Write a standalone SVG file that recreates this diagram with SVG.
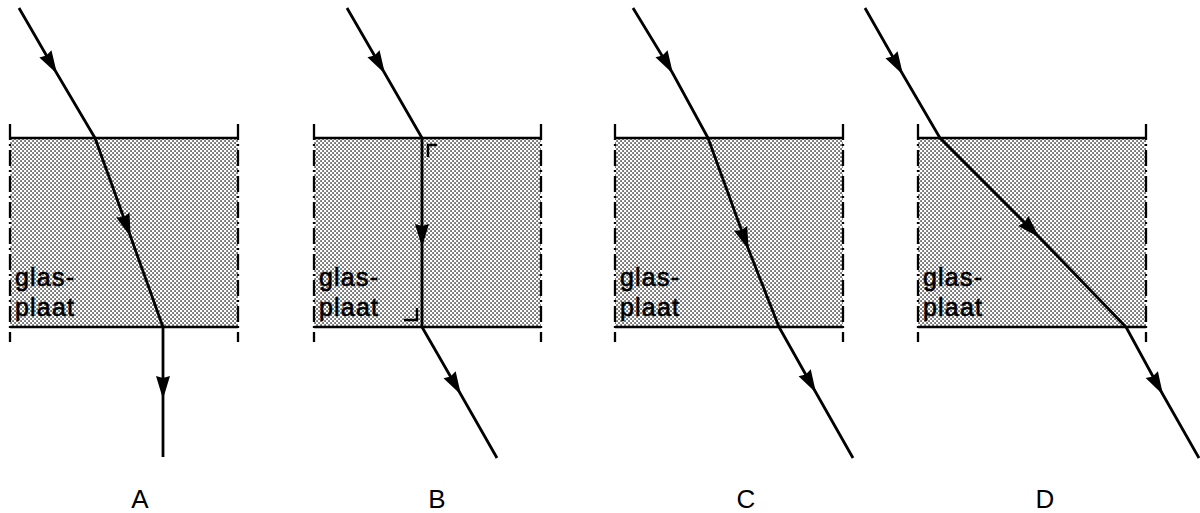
<svg xmlns="http://www.w3.org/2000/svg" width="1200" height="513" viewBox="0 0 1200 513">
<style>
.slab{fill:url(#dots);stroke:none}
.hl{stroke:#000;stroke-width:2.3;fill:none}
.edge{stroke:#000;stroke-width:2.3;fill:none;stroke-dasharray:16 4 2 4}
.ray{stroke:#000;stroke-width:2.8;fill:none;stroke-linejoin:round;marker-mid:url(#arr)}
.ra{stroke:#000;stroke-width:2.4;fill:none}
.gl{font-family:"Liberation Sans",Arial,sans-serif;font-size:25px;letter-spacing:1.2px;fill:#000;stroke:#000;stroke-width:0.6}
.lab{font-family:"Liberation Sans",Arial,sans-serif;font-size:26px;fill:#000;text-anchor:middle}
</style>
<defs>
<pattern id="dots" patternUnits="userSpaceOnUse" width="4" height="4">
<rect width="4" height="4" fill="#fff"/>
<rect x="0.3" y="0.3" width="1.5" height="1.5" fill="#222"/>
<rect x="2.3" y="2.3" width="1.5" height="1.5" fill="#222"/>
</pattern>
<marker id="arr" markerUnits="userSpaceOnUse" markerWidth="28" markerHeight="18" viewBox="-25 -9 28 18" refX="0" refY="0" orient="auto">
<path d="M2,0 L-21,-7 L-19,0 L-21,7 Z" fill="#000"/>
</marker>
</defs>

<g id="panelA">
<rect class="slab" x="10" y="138" width="228" height="189"/>
<line class="hl" x1="10" y1="138" x2="238" y2="138"/>
<line class="hl" x1="10" y1="327" x2="238" y2="327"/>
<line class="edge" x1="10" y1="124" x2="10" y2="342"/>
<line class="edge" x1="238" y1="124" x2="238" y2="342"/>
<text class="gl" x="15" y="286">glas-</text>
<text class="gl" x="15" y="316">plaat</text>
<text class="lab" x="140" y="508">A</text>
</g>

<g id="panelB">
<rect class="slab" x="314" y="138" width="227" height="189"/>
<line class="hl" x1="314" y1="138" x2="541" y2="138"/>
<line class="hl" x1="314" y1="327" x2="541" y2="327"/>
<line class="edge" x1="314" y1="124" x2="314" y2="342"/>
<line class="edge" x1="541" y1="124" x2="541" y2="342"/>
<text class="gl" x="319" y="286">glas-</text>
<text class="gl" x="319" y="316">plaat</text>
<path class="ra" d="M437,145 H428 V157"/>
<path class="ra" d="M404,320 H417 V308"/>
<text class="lab" x="437" y="508">B</text>
</g>

<g id="panelC">
<rect class="slab" x="615" y="138" width="228" height="189"/>
<line class="hl" x1="615" y1="138" x2="843" y2="138"/>
<line class="hl" x1="615" y1="327" x2="843" y2="327"/>
<line class="edge" x1="615" y1="124" x2="615" y2="342"/>
<line class="edge" x1="843" y1="124" x2="843" y2="342"/>
<text class="gl" x="620" y="286">glas-</text>
<text class="gl" x="620" y="316">plaat</text>
<text class="lab" x="746" y="508">C</text>
</g>

<g id="panelD">
<rect class="slab" x="918" y="138" width="228" height="189"/>
<line class="hl" x1="918" y1="138" x2="1146" y2="138"/>
<line class="hl" x1="918" y1="327" x2="1146" y2="327"/>
<line class="edge" x1="918" y1="124" x2="918" y2="342"/>
<line class="edge" x1="1146" y1="124" x2="1146" y2="342"/>
<text class="gl" x="923" y="286">glas-</text>
<text class="gl" x="923" y="316">plaat</text>
<text class="lab" x="1045" y="508">D</text>
</g>

<g id="connectors">
<path class="ray" d="M19,8 L56,72 L95,138"/>
<path class="ray" d="M95,138 L130,235 L163,327"/>
<path class="ray" d="M163,327 L163,397 L163,457"/>
<path class="ray" d="M347,8 L384,72 L422,138"/>
<path class="ray" d="M422,138 L422,245 L422,327"/>
<path class="ray" d="M422,327 L460,393 L497,458"/>
<path class="ray" d="M633,8 L672,72 L708,138"/>
<path class="ray" d="M708,138 L748,248 L779,327"/>
<path class="ray" d="M779,327 L815,391 L853,458"/>
<path class="ray" d="M865,8 L902,73 L940,138"/>
<path class="ray" d="M940,138 L1038,236 L1126,327"/>
<path class="ray" d="M1126,327 L1162,393 L1199,458"/>
</g>
</svg>
